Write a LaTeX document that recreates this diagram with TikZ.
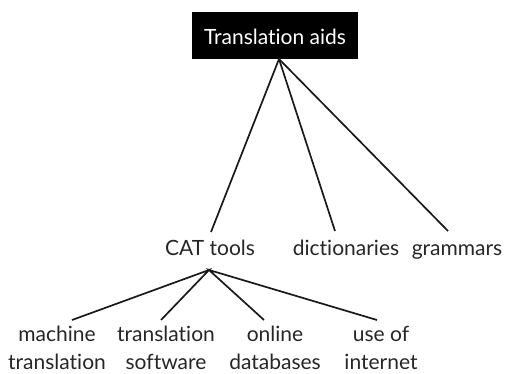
\documentclass[tikz,border=0pt]{standalone}
\usepackage{fontspec}
\setmainfont{Lato}[Ligatures=NoCommon]
\begin{document}
\begin{tikzpicture}[x=1pt,y=-1pt,
  lbl/.style={inner sep=0pt, anchor=base, font=\fontsize{21}{28}\selectfont, text=black!85, align=center},
  edge/.style={line width=1.7pt, black!90}]
\useasboundingbox (0,0) rectangle (505,374);
% root box
\fill[black] (192,12) rectangle (358,59);
\node[inner sep=0pt, anchor=base, text=white, font=\fontsize{21}{24}\selectfont]
  (root) at (275,45) {Translation aids};
% first level
\node[lbl] (cat) at (210,255) {CAT tools};
\node[lbl] (dict) at (346,255) {dictionaries};
\node[lbl] (gram) at (457,255) {grammars};
% second level (anchored on the baseline of the lower line)
\node[lbl] (mt) at (57,369) {machine\\translation};
\node[lbl] (ts) at (166,369) {translation\\software};
\node[lbl] (od) at (275,369) {online\\databases};
\node[lbl] (ui) at (381,369) {use of\\internet};
% connector end points
\coordinate (rootApex) at (279,59);
\coordinate (catIn) at (211,232);
\coordinate (dictIn) at (335,231);
\coordinate (gramIn) at (448,231);
\coordinate (catApex) at (209,270);
\coordinate (mtIn) at (72,320);
\coordinate (tsIn) at (161,320);
\coordinate (odIn) at (264,320);
\coordinate (uiIn) at (377,320);
\draw[edge] (catIn) -- (rootApex) -- (dictIn);
\draw[edge] (rootApex) -- (gramIn);
\draw[edge] (mtIn) -- (catApex) -- (tsIn);
\draw[edge] (odIn) -- (catApex) -- (uiIn);
\end{tikzpicture}
\end{document}
